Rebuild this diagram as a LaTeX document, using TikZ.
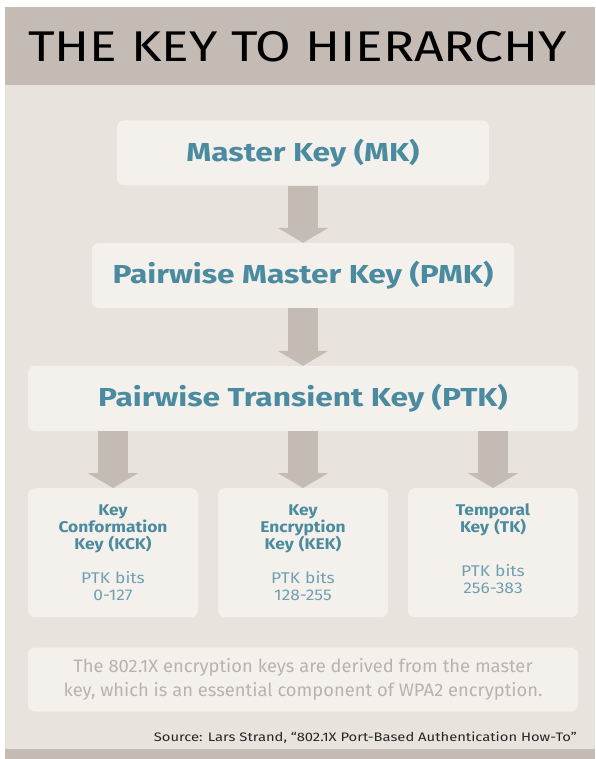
\documentclass[tikz,border=0pt]{standalone}
\usepackage{fontspec}
\setmainfont{Fira Sans}[FakeStretch=1.12]
\newfontfamily\widefont{Fira Sans}[FakeStretch=1.22]
\newfontfamily\headfont{Fira Sans}[FakeStretch=1.2]
\newfontfamily\notefont{Fira Sans}[FakeStretch=1.02]
\usetikzlibrary{arrows.meta,positioning}

\definecolor{bandgray}{HTML}{C4BBB5}
\definecolor{paper}{HTML}{E8E3DD}
\definecolor{boxfill}{HTML}{F4F0EB}
\definecolor{keyblue}{HTML}{4A8BA0}
\definecolor{bitsblue}{HTML}{6FA1B2}
\definecolor{notegray}{HTML}{BAB3AD}

\tikzset{keybox/.style = {fill=boxfill, rounded corners=7pt, inner sep=0pt},
         bigkey/.style = {keybox, minimum height=65pt, text=keyblue,
                          font=\widefont\fontsize{26}{30}\selectfont\bfseries},
         subkey/.style = {keybox, anchor=north, minimum width=170pt, minimum height=129pt,
                          text width=170pt, align=center, text=keyblue,
                          font=\fontsize{15.5}{17}\selectfont},
         blockarrow/.style = {draw=bandgray, line width=30pt,
                              -{Triangle[width=50pt,length=15pt]}}}

\begin{document}
\begin{tikzpicture}[x=1pt,y=-1pt]
\useasboundingbox (0,0) rectangle (595,759);
% frame and header
\fill [bandgray] (5,7) rectangle (595,85);
\fill [paper] (5,85) rectangle (595,749);
\fill [bandgray] (5,749) rectangle (595,759);
\node (title) [anchor=base west, inner sep=0pt, font=\headfont\fontsize{43}{46}\selectfont]
  at (28,62) {THE KEY TO HIERARCHY};

% the key chain
\node (mk)  [bigkey, minimum width=372pt] at (303,153) {Master Key (MK)};
\node (pmk) [bigkey, minimum width=422pt] at (303,275.5) {Pairwise Master Key (PMK)};
\node (ptk) [bigkey, minimum width=550pt] at (303,398.5) {Pairwise Transient Key (PTK)};

\node (kck) [subkey] at (113,488)
  {\bfseries Key\\Conformation\\Key (KCK)\\[17pt]\mdseries\color{bitsblue}PTK bits\\0-127};
\node (kek) [subkey] at (303,488)
  {\bfseries Key\\Encryption\\Key (KEK)\\[17pt]\mdseries\color{bitsblue}PTK bits\\128-255};
\node (tk)  [subkey] at (493,488)
  {\bfseries Temporal\\Key (TK)\\[27pt]\mdseries\color{bitsblue}PTK bits\\256-383\\[-9pt]~};

\draw [blockarrow] (mk.south) -- (pmk.north);
\draw [blockarrow] (pmk.south) -- (ptk.north);
\draw [blockarrow] (ptk.south -| kck.north) -- (kck.north);
\draw [blockarrow] (ptk.south -| kek.north) -- (kek.north);
\draw [blockarrow] (ptk.south -| tk.north) -- (tk.north);

% note and source
\node (note) [keybox, minimum width=550pt, minimum height=64pt, align=center,
  text=notegray, font=\notefont\fontsize{18}{24}\selectfont] at (303,679.5)
  {The 802.1X encryption keys are derived from the master\\
   key, which is an essential component of WPA2 encryption.};
\node (source) [anchor=base east, inner sep=0pt, text=black!85,
  font=\headfont\fontsize{12.3}{14}\selectfont] at (577,741)
  {Source: Lars Strand, “802.1X Port-Based Authentication How-To”};
\end{tikzpicture}
\end{document}
